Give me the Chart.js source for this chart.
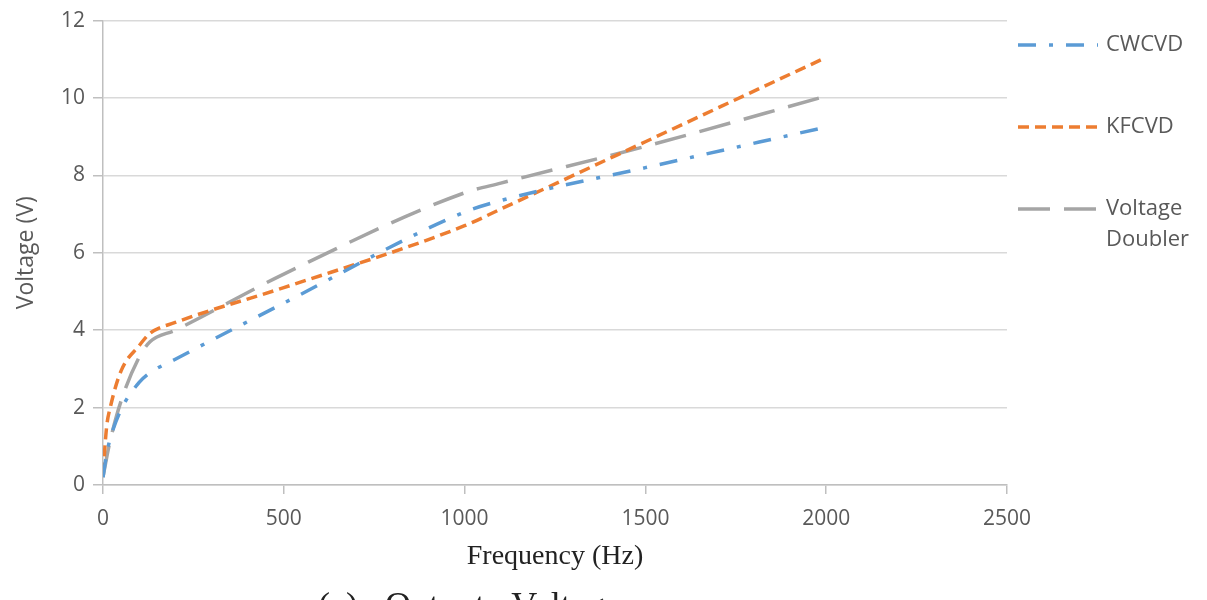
<!DOCTYPE html>
<html>
<head>
<meta charset="utf-8">
<script src="https://cdn.jsdelivr.net/npm/chart.js@4"></script>
<style>
  body { margin: 0; background: #fff; }
  #wrap { position: relative; width: 1207px; height: 600px; overflow: hidden; }
  #caption {
    position: absolute; left: 318px; top: 587px;
    font-family: "Liberation Serif", serif; font-size: 36px; line-height: 36px;
    color: #222; white-space: pre;
  }
</style>
</head>
<body>
<div id="wrap">
  <canvas id="voltageChart" width="1207" height="600"></canvas>
  <div id="caption">(a)   Output   Voltage</div>
</div>
<script>
// frequency points (Hz) shared by all three curves
var frequencies = [0, 10, 20, 50, 100, 130, 200, 500, 1000, 1100, 1500, 2000];
var cwcvdVolts = [0.2, 0.8, 1.2, 1.95, 2.65, 2.9, 3.25, 4.7, 7.05, 7.35, 8.2, 9.25];
var kfcvdVolts = [0.3, 1.5, 2.0, 2.95, 3.6, 3.92, 4.2, 5.1, 6.7, 7.13, 8.87, 11.05];
var doublerVolts = [0.2, 0.7, 1.15, 2.17, 3.3, 3.7, 4.0, 5.45, 7.55, 7.8, 8.75, 10.05];
var seriesNames = ["CWCVD", "KFCVD", "Voltage Doubler"];
var xTicks = [0, 500, 1000, 1500, 2000, 2500];
var yTicks = [0, 2, 4, 6, 8, 10, 12];

function toPoints(volts) {
  return volts.map(function (v, i) {
    return { x: frequencies[i], y: v };
  });
}

// legend drawn on the right, one row per dataset
var sideLegend = {
  id: "sideLegend",
  afterDraw: function (chart) {
    var ctx = chart.ctx;
    var x0 = 1018, len = 80, textX = 1106, top = 45, gap = 82;
    ctx.save();
    ctx.font = "22px 'Open Sans'";
    ctx.textBaseline = "middle";
    chart.data.datasets.forEach(function (ds, i) {
      var y = top + i * gap;
      ctx.beginPath();
      ctx.setLineDash(ds.borderDash);
      ctx.strokeStyle = ds.borderColor;
      ctx.lineWidth = ds.borderWidth;
      ctx.moveTo(x0, y);
      ctx.lineTo(x0 + len, y);
      ctx.stroke();
      ctx.setLineDash([]);
      ctx.fillStyle = "#595959";
      // wrap the label to fit the space at the right
      var words = ds.label.split(" ");
      var lines = [], line = "";
      words.forEach(function (w) {
        var test = line ? line + " " + w : w;
        if (ctx.measureText(test).width > 95 && line) {
          lines.push(line);
          line = w;
        } else {
          line = test;
        }
      });
      lines.push(line);
      lines.forEach(function (l, j) {
        ctx.fillText(l, textX, y + j * 31);
      });
    });
    ctx.restore();
  },
};

var ctx = document.getElementById("voltageChart").getContext("2d");
var chart = new Chart(ctx, {
  type: "line",
  data: {
    datasets: [
      {
        label: seriesNames[0],
        data: toPoints(cwcvdVolts),
        borderColor: "#5B9BD5",
        borderWidth: 3.5,
        borderDash: [18, 13, 4, 13],
        pointRadius: 0,
        fill: false,
        cubicInterpolationMode: "monotone",
      },
      {
        label: seriesNames[1],
        data: toPoints(kfcvdVolts),
        borderColor: "#ED7D31",
        borderWidth: 3.5,
        borderDash: [11, 6],
        pointRadius: 0,
        fill: false,
        cubicInterpolationMode: "monotone",
      },
      {
        label: seriesNames[2],
        data: toPoints(doublerVolts),
        borderColor: "#A5A5A5",
        borderWidth: 3.5,
        borderDash: [32, 14],
        pointRadius: 0,
        fill: false,
        cubicInterpolationMode: "monotone",
      },
    ],
  },
  options: {
    responsive: false,
    animation: false,
    layout: { padding: { left: 0, right: 200, top: 20, bottom: 0 } },
    plugins: {
      legend: { display: false },
      tooltip: { enabled: false },
    },
    scales: {
      x: {
        type: "linear",
        min: xTicks[0],
        max: xTicks[xTicks.length - 1],
        afterBuildTicks: function (scale) {
          scale.ticks = xTicks.map(function (v) { return { value: v }; });
        },
        afterFit: function (scale) { scale.height = 115; },
        grid: { drawOnChartArea: false, tickLength: 9, color: "#bfbfbf", lineWidth: 1.5 },
        border: { color: "#bfbfbf", width: 1.5 },
        ticks: {
          padding: 12,
          color: "#595959",
          font: { family: "'Open Sans'", size: 21 },
          callback: function (value) { return String(value); },
        },
        title: {
          display: true,
          text: "Frequency (Hz)",
          color: "#222",
          font: { family: "'Liberation Serif'", size: 28 },
          padding: { top: 4, bottom: 27 },
        },
      },
      y: {
        min: yTicks[0],
        max: yTicks[yTicks.length - 1],
        afterBuildTicks: function (scale) {
          scale.ticks = yTicks.map(function (v) { return { value: v }; });
        },
        afterFit: function (scale) { scale.width = 103; },
        grid: { color: "#d9d9d9", tickColor: "#bfbfbf", tickLength: 10, lineWidth: 1.5 },
        border: { color: "#bfbfbf", width: 1.5 },
        ticks: {
          padding: 8,
          color: "#595959",
          font: { family: "'Open Sans'", size: 21 },
        },
        title: {
          display: true,
          text: "Voltage (V)",
          color: "#595959",
          font: { family: "'Open Sans'", size: 23 },
          padding: { top: 13, bottom: 4 },
        },
      },
    },
  },
  plugins: [sideLegend],
});
</script>
</body>
</html>
